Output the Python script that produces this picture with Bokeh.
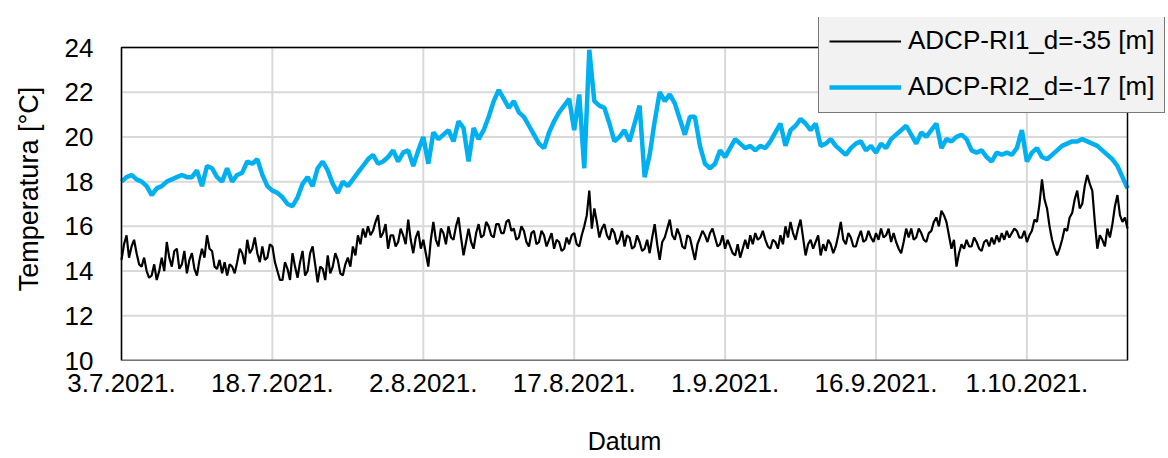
from bokeh.plotting import figure
from bokeh.models import FixedTicker, Legend, LegendItem, Range1d
from bokeh.embed import file_html
from bokeh.resources import INLINE

# ---- data ----
tick_days = [0, 15, 30, 45, 60, 75, 90]
tick_labels = ["3.7.2021.", "18.7.2021.", "2.8.2021.", "17.8.2021.",
               "1.9.2021.", "16.9.2021.", "1.10.2021."]
y_ticks = [10, 12, 14, 16, 18, 20, 22, 24]
x_start, x_end = 0, 100      # days after 3.7.2021.
y_start, y_end = 10, 24
step_ri2 = 0.5    # sampling interval (days) of the RI2 series as read
step_ri1 = 0.25   # sampling interval (days) of the RI1 series as read

label_ri1 = "ADCP-RI1_d=-35 [m]"
label_ri2 = "ADCP-RI2_d=-17 [m]"

ri2_temp = [
    18.0, 18.2, 18.3, 18.1, 18.0, 17.8, 17.4, 17.7, 17.8, 18.0,
    18.1, 18.2, 18.3, 18.2, 18.2, 18.5, 17.8, 18.7, 18.6, 18.2,
    18.0, 18.6, 18.0, 18.3, 18.4, 18.9, 18.8, 19.0, 18.3, 17.8,
    17.6, 17.5, 17.3, 17.0, 16.9, 17.3, 17.9, 18.2, 17.8, 18.6,
    18.9, 18.5, 17.9, 17.5, 18.0, 17.8, 18.1, 18.4, 18.7, 19.0,
    19.2, 18.8, 18.9, 19.1, 19.4, 18.9, 19.3, 19.4, 18.7, 19.4,
    20.0, 18.8, 20.2, 19.9, 20.1, 20.3, 19.8, 20.7, 20.4, 18.9,
    20.4, 19.9, 20.3, 20.9, 21.6, 22.1, 21.7, 21.3, 21.6, 21.1,
    20.9, 20.5, 20.1, 19.7, 19.5, 20.2, 20.7, 21.1, 21.4, 21.7,
    20.3, 21.9, 18.6, 23.9, 21.6, 21.4, 21.3, 20.6, 19.8, 20.0,
    20.3, 19.8, 20.6, 21.4, 18.2, 19.2, 20.7, 22.0, 21.6, 21.9,
    21.5, 20.8, 20.1, 20.9, 20.9, 19.6, 18.8, 18.6, 18.8, 19.4,
    19.1, 19.5, 19.9, 19.7, 19.5, 19.6, 19.4, 19.6, 19.5, 19.8,
    20.2, 20.6, 19.6, 20.3, 20.5, 20.8, 20.6, 20.3, 20.6, 19.6,
    19.7, 19.9, 19.6, 19.4, 19.2, 19.5, 19.7, 19.8, 19.4, 19.6,
    19.3, 19.7, 19.5, 19.9, 20.1, 20.3, 20.5, 20.1, 19.7, 20.2,
    20.0, 20.3, 20.6, 19.5, 19.9, 19.8, 20.0, 20.1, 19.9, 19.4,
    19.3, 19.4, 19.1, 18.9, 19.3, 19.2, 19.3, 19.2, 19.5, 20.3,
    18.9, 19.3, 19.5, 19.1, 19.0, 19.2, 19.4, 19.6, 19.7, 19.8,
    19.8, 19.9, 19.8, 19.7, 19.6, 19.4, 19.2, 19.0, 18.7, 18.2,
    17.7,
]

ri1_temp = [
    14.5, 15.2, 15.6, 14.6, 15.1, 15.4, 14.8, 14.3, 14.2, 14.6, 14.0, 13.7, 13.8, 14.3, 13.6, 14.0, 14.6, 14.0, 15.3, 14.6,
    14.2, 14.9, 15.0, 14.1, 14.3, 14.9, 13.9, 14.5, 14.8, 14.1, 13.8, 14.5, 15.0, 14.6, 15.6, 15.0, 14.9, 14.2, 14.1, 14.5,
    13.9, 14.4, 13.8, 14.3, 14.2, 13.9, 14.4, 15.0, 14.8, 14.3, 15.4, 14.8, 15.0, 15.5, 14.8, 14.4, 15.1, 14.5, 14.6, 15.2,
    15.1, 14.4, 14.0, 13.6, 13.6, 14.4, 14.1, 13.6, 14.8, 14.2, 13.7, 14.4, 14.9, 13.8, 14.0, 14.8, 15.1, 14.3, 13.5, 14.2,
    14.1, 13.6, 14.7, 13.9, 14.2, 14.8, 14.5, 13.9, 13.8, 14.3, 14.6, 14.2, 15.1, 14.7, 15.6, 15.2, 15.9, 15.5, 16.0, 15.6,
    15.8, 16.2, 16.5, 15.5, 15.7, 16.1, 15.0, 15.6, 15.6, 15.1, 15.3, 15.9, 15.6, 15.2, 16.3, 15.4, 14.8, 15.5, 15.8, 15.0,
    15.4, 14.8, 14.2, 15.4, 16.2, 15.4, 15.1, 15.9, 15.7, 15.2, 16.0, 15.5, 15.4, 16.0, 16.4, 15.5, 14.7, 15.3, 15.9, 15.3,
    15.0, 15.7, 16.1, 15.5, 15.6, 16.2, 16.0, 15.6, 15.5, 16.1, 16.1, 15.7, 15.7, 16.2, 16.3, 15.8, 15.9, 15.4, 15.5, 16.0,
    15.8, 15.3, 15.1, 15.7, 15.8, 15.2, 15.3, 15.8, 15.6, 15.1, 15.4, 15.7, 15.0, 15.4, 15.3, 14.9, 15.0, 15.5, 15.2, 15.6,
    15.7, 15.2, 15.1, 15.6, 16.0, 16.5, 17.6, 15.9, 16.8, 16.2, 15.5, 15.9, 16.1, 15.6, 15.4, 15.9, 15.7, 15.2, 15.4, 15.8,
    15.1, 15.6, 15.5, 15.0, 15.1, 15.6, 15.3, 14.9, 15.0, 15.4, 14.8, 15.5, 16.1, 15.2, 14.5, 15.3, 15.5, 15.9, 16.3, 15.6,
    15.4, 15.9, 15.6, 15.1, 15.0, 15.6, 15.5, 15.0, 14.5, 15.2, 15.5, 15.8, 15.6, 15.3, 15.7, 15.9, 15.5, 15.1, 15.2, 15.6,
    15.0, 15.4, 15.1, 14.8, 14.7, 15.2, 14.6, 15.0, 15.4, 15.0, 15.6, 15.2, 15.7, 15.4, 15.5, 15.8, 15.4, 15.1, 15.0, 15.4,
    15.3, 15.0, 15.6, 15.2, 16.0, 15.5, 16.2, 15.7, 15.4, 15.9, 16.3, 15.5, 14.7, 15.2, 15.4, 15.0, 15.3, 15.6, 14.7, 15.2,
    14.9, 15.4, 15.2, 14.8, 15.1, 15.6, 16.2, 15.4, 15.2, 15.7, 15.5, 15.1, 15.1, 15.5, 15.8, 15.3, 15.4, 15.8, 15.5, 15.3,
    15.7, 15.4, 15.9, 15.5, 15.6, 15.9, 15.3, 15.7, 15.3, 15.0, 14.8, 15.3, 15.9, 15.5, 15.9, 15.4, 15.5, 15.9, 15.7, 15.4,
    15.3, 15.7, 15.8, 16.2, 16.4, 16.0, 16.7, 16.5, 16.2, 15.6, 15.0, 15.4, 14.2, 14.8, 15.2, 15.0, 15.4, 15.1, 15.1, 15.5,
    15.3, 15.0, 14.9, 15.3, 15.4, 15.1, 15.5, 15.2, 15.6, 15.3, 15.7, 15.4, 15.8, 15.5, 15.7, 15.9, 15.8, 15.5, 15.5, 15.8,
    15.3, 15.6, 15.8, 16.3, 16.2, 17.0, 18.1, 17.2, 16.8, 16.0, 15.4, 15.0, 14.7, 15.0, 15.4, 15.9, 15.8, 16.4, 16.6, 17.2,
    17.6, 16.8, 17.0, 17.8, 18.3, 17.9, 17.6, 16.2, 15.0, 15.6, 15.4, 15.1, 15.9, 15.5, 16.1, 16.9, 17.4, 16.5, 16.2, 16.4,
    15.9,
]

days_ri2 = [i * step_ri2 for i in range(len(ri2_temp))]
days_ri1 = [i * step_ri1 for i in range(len(ri1_temp))]

# ---- layout (pixels) ----
FONT = "Liberation Sans"
W, H = 1168, 458
plot_left, plot_right, plot_top, plot_bottom = 121, 1127, 47, 360
frame_left, frame_top = 80, 17
px_x = (plot_right - plot_left) / (x_end - x_start)
px_y = (plot_bottom - plot_top) / (y_end - y_start)
xr_start = x_start - (plot_left - frame_left) / px_x
xr_end = x_end + (W - plot_right) / px_x
yr_end = y_end + (plot_top - frame_top) / px_y

p = figure(width=W, height=H, output_backend="svg", toolbar_location=None,
           x_range=Range1d(xr_start, xr_end), y_range=Range1d(y_start, yr_end),
           min_border_left=frame_left, min_border_right=0,
           min_border_top=frame_top, min_border_bottom=H - plot_bottom)
p.background_fill_color = "white"
p.border_fill_color = "white"
p.outline_line_color = None
p.xgrid.visible = False
p.ygrid.visible = False

# grid lines limited to the plot box
p.segment(x0=tick_days, x1=tick_days, y0=[y_start] * len(tick_days),
          y1=[y_end] * len(tick_days), line_color="#d9d9d9", line_width=2)
p.segment(x0=[x_start] * len(y_ticks), x1=[x_end] * len(y_ticks),
          y0=y_ticks, y1=y_ticks, line_color="#d9d9d9", line_width=2)

r2 = p.line(days_ri2, ri2_temp, line_color="#00b0f0", line_width=4.5)
r1 = p.line(days_ri1, ri1_temp, line_color="black", line_width=2.2)

# plot box
p.quad(left=[x_start], right=[x_end], bottom=[y_start], top=[y_end],
       fill_color=None, line_color="black", line_width=1.5)

# axes
p.xaxis.ticker = FixedTicker(ticks=tick_days)
p.xaxis.major_label_overrides = {d: lab for d, lab in zip(tick_days, tick_labels)}
p.xaxis.bounds = (x_start, x_end)
p.yaxis.ticker = FixedTicker(ticks=y_ticks)
p.yaxis.bounds = (y_start, y_end)
for ax in (p.xaxis[0], p.yaxis[0]):
    ax.axis_line_color = None
    ax.major_tick_in = 0
    ax.major_tick_out = 0
    ax.major_tick_line_color = None
    ax.minor_tick_line_color = None
    ax.major_label_text_font = FONT
    ax.major_label_text_font_size = "26px"
    ax.major_label_text_color = "black"
    ax.axis_label_text_font = FONT
    ax.axis_label_text_font_style = "normal"
    ax.axis_label_text_color = "black"

p.xaxis.axis_label = "Datum"
p.xaxis.axis_label_text_font_size = "25px"
p.xaxis.major_label_standoff = 13
p.xaxis.axis_label_standoff = 32
p.yaxis.axis_label = "Temperatura [°C]"
p.yaxis.axis_label_text_font_size = "27px"
p.yaxis.major_label_standoff = (frame_left - plot_left) + 28
p.yaxis.axis_label_standoff = 18

legend = Legend(items=[LegendItem(label=label_ri1, renderers=[r1]),
                       LegendItem(label=label_ri2, renderers=[r2])],
                location=(818 - frame_left, plot_bottom - 113))
legend.background_fill_color = "#f2f2f2"
legend.background_fill_alpha = 1.0
legend.border_line_color = "black"
legend.border_line_width = 1.5
legend.padding = 10
legend.spacing = 15
legend.glyph_width = 72
legend.glyph_height = 30
legend.label_height = 30
legend.label_standoff = 7
legend.label_text_font = FONT
legend.label_text_font_size = "26px"
legend.label_text_color = "black"
p.add_layout(legend)

open("out.html", "w").write(file_html(p, INLINE))
